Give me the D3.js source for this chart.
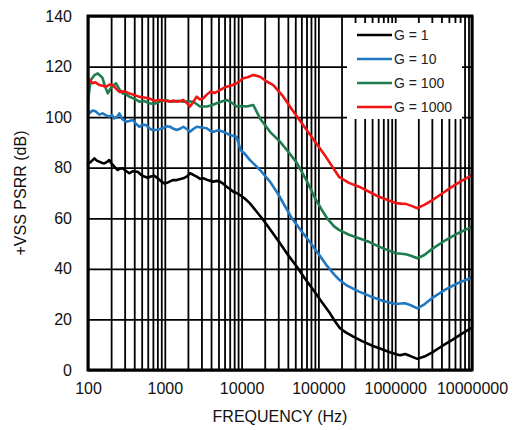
<!DOCTYPE html>
<html>
<head>
<meta charset="utf-8">
<script src="https://cdn.jsdelivr.net/npm/d3@7"></script>
<style>
  html, body { margin: 0; padding: 0; background: #fff; }
  svg { display: block; font-family: "Liberation Sans", Arial, sans-serif; }
</style>
</head>
<body>
<svg id="chart" width="519" height="430"></svg>
<script>
// ---- data ----
const xTickValues = [100, 1000, 10000, 100000, 1000000, 10000000];
const yTickValues = [0, 20, 40, 60, 80, 100, 120, 140];
const seriesNames = ["G = 1", "G = 10", "G = 100", "G = 1000"];
const seriesColors = ["#000000", "#1f78c1", "#1e7d4f", "#f01414"];

const freqG1 = [100,108,121,130,140,150,163,175,189,205,220,244,260,283,310,345,380,444,490,541,600,661,730,809,900,985,1100,1268,1429,1600,1742,1950,2128,2350,2602,2900,3170,3700,4285,4750,5235,5800,6395,7100,7800,8600,9530,11000,12850,15730,19190,25000,31620,40000,52120,66000,85870,110000,141600,165000,191000,230000,284500,370000,514000,700000,850000,1087000,1200000,1343000,1550000,1941000,2400000,3043000,4000000,5536000,7500000,10000000];
const psrrG1 = [81.7,82.2,83.7,82.8,82.4,82.0,81.7,82.2,83.0,81.5,80.4,79.1,79.6,79.8,78.8,77.8,78.6,78.4,77.2,76.5,76.0,76.5,76.8,75.8,74.6,73.8,74.2,75.1,75.1,75.5,75.8,76.6,77.8,77.2,76.5,75.6,75.8,75.0,74.5,74.8,74.5,73.6,72.5,71.5,70.5,70.0,69.2,67.8,65.9,62.6,59.3,54.5,50.1,45.6,40.9,36.4,31.6,27.0,22.4,19.2,16.5,14.8,13.2,11.4,9.5,8.0,7.0,6.0,5.9,6.3,5.6,4.4,5.3,7.0,9.3,11.9,14.5,16.8];

const freqG10 = [100,104,115,127,140,155,170,189,205,220,240,256,280,313,345,382,420,466,520,569,630,695,800,940,1050,1170,1300,1429,1600,1742,1950,2128,2350,2602,3000,3515,3900,4285,5000,5780,6400,7060,8625,9700,11000,12850,17380,23440,30000,45200,60000,80000,100000,127000,160000,185300,230000,337800,470000,700000,1016000,1200000,1343000,1600000,1941000,2400000,3043000,4500000,6500000,10000000];
const psrrG10 = [104,101.5,102.6,102.2,101.0,101.5,100.8,100.2,100.8,99.5,100.2,101.5,99.2,98.2,98.5,98.9,97.4,96.2,97.0,96.9,95.6,94.9,95.0,95.6,96.4,96.2,95.4,94.9,95.5,96.2,95.2,94.2,95.3,96.2,95.9,95.6,94.6,94.2,94.8,94.2,93.6,92.9,92.2,87.0,85.5,83.0,79.1,74.5,69.5,60.0,55.0,50.0,46.0,41.5,37.8,35.8,33.6,31.0,29.2,27.3,26.1,26.3,26.4,25.6,24.4,26.0,28.5,31.8,34.3,36.6];

const freqG100 = [100,104,109,120,134,145,155,165,181,200,232,256,283,310,345,400,466,540,628,720,848,1000,1268,1500,1742,2000,2350,2872,3515,4000,4740,5500,6395,7500,8625,10000,11640,14200,17380,23440,31620,40000,52120,70000,90360,110000,130000,160000,185300,250000,337800,470000,615000,800000,1016000,1200000,1371000,1600000,1941000,2400000,3000000,4500000,6500000,10000000];
const psrrG100 = [106,110.5,114.7,116.5,117.3,116.4,115.4,112.5,109.4,111.8,113.4,111.0,109.4,109.2,108.1,107.3,106.1,106.4,105.5,105.2,106.1,106.8,106.1,106.5,106.1,106.3,106.1,104.2,104.2,104.6,105.5,106.2,106.8,105.6,104.2,104.4,104.2,104.8,99.5,94.2,90.3,86.5,82.0,75.0,68.0,63.5,60.0,56.8,55.4,53.5,52.1,50.5,48.8,47.4,46.2,46.0,45.8,45.2,44.2,45.5,47.8,51.3,54.0,56.7];

const freqG1000 = [100,108,115,125,140,155,171,190,210,230,256,300,345,400,466,540,628,720,848,1000,1170,1300,1429,1600,1742,1950,2128,2350,2602,2872,3170,3500,3880,4500,5235,5800,6395,7500,8625,10520,12000,14200,17380,21220,25880,34930,45710,75450,124500,185300,250000,337800,470000,615000,800000,1016000,1200000,1371000,1600000,1941000,2400000,3043000,4000000,5536000,7500000,10000000];
const psrrG1000 = [115.5,114.2,113.4,113.8,112.7,112.4,112.0,112.9,112.7,111.4,110.0,110.2,109.4,108.8,108.0,107.8,107.4,106.5,106.8,106.6,106.1,106.6,106.1,106.4,106.8,105.5,104.2,106.0,108.1,107.0,107.4,108.8,110.0,109.6,110.7,111.5,112.0,112.6,113.4,115.4,115.8,116.7,116.0,114.1,112.7,108.1,102.8,93.6,84.4,76.4,74.0,72.5,70.3,68.5,67.2,66.0,65.8,65.7,65.0,64.0,65.3,67.2,69.6,72.5,75.0,77.1];

const xTitle = "FREQUENCY (Hz)";
const yTitle = "+VSS PSRR (dB)";

// ---- layout ----
const plot = { left: 88, right: 472, top: 16, bottom: 370 };
const svg = d3.select("#chart");

const x = d3.scaleLog().domain([100, 1e7]).range([plot.left, plot.right]);
const y = d3.scaleLinear().domain([0, 140]).range([plot.bottom, plot.top]);

// minor / major vertical grid values (1..9 of each decade)
const gridX = [];
for (let d = 100; d < 1e7; d *= 10) for (let m = 1; m <= 9; m++) gridX.push(d * m);
gridX.push(1e7);

const gridG = svg.append("g");
gridG.append("g")
  .attr("transform", `translate(0,${plot.bottom})`)
  .call(d3.axisBottom(x).tickValues(gridX).tickSize(-(plot.bottom - plot.top)).tickFormat(""))
  .call(g => g.select(".domain").remove())
  .call(g => g.selectAll("line").attr("stroke", "#000").attr("stroke-width", 1.8));
gridG.append("g")
  .attr("transform", `translate(${plot.left},0)`)
  .call(d3.axisLeft(y).tickValues(yTickValues).tickSize(-(plot.right - plot.left)).tickFormat(""))
  .call(g => g.select(".domain").remove())
  .call(g => g.selectAll("line").attr("stroke", "#000").attr("stroke-width", 1.8));

// ---- curves ----
const series = [
  { f: freqG1, v: psrrG1 },
  { f: freqG10, v: psrrG10 },
  { f: freqG100, v: psrrG100 },
  { f: freqG1000, v: psrrG1000 }
];
const line = d3.line().x(d => x(d[0])).y(d => y(d[1]));
const curveG = svg.append("g");
series.forEach((s, i) => {
  const pts = s.f.map((f, k) => [f, s.v[k]]);
  curveG.append("path")
    .attr("d", line(pts))
    .attr("fill", "none")
    .attr("stroke", seriesColors[i])
    .attr("stroke-width", 2.6)
    .attr("stroke-linejoin", "round")
    .attr("stroke-linecap", "round");
});

// ---- legend ----
const legend = svg.append("g");
legend.append("rect")
  .attr("x", 347).attr("y", 23).attr("width", 115).attr("height", 96)
  .attr("fill", "#fff");
seriesNames.forEach((name, i) => {
  const ly = 35 + i * 24;
  legend.append("line")
    .attr("x1", 357).attr("x2", 392).attr("y1", ly).attr("y2", ly)
    .attr("stroke", seriesColors[i]).attr("stroke-width", 2.6);
  legend.append("text")
    .attr("x", 394).attr("y", ly).attr("dy", "0.35em")
    .attr("font-size", 14).attr("fill", "#222")
    .text(name);
});

// ---- frame ----
svg.append("rect")
  .attr("x", plot.left).attr("y", plot.top)
  .attr("width", plot.right - plot.left).attr("height", plot.bottom - plot.top)
  .attr("fill", "none").attr("stroke", "#000").attr("stroke-width", 3);

// ---- axes labels ----
svg.append("g")
  .attr("transform", `translate(0,${plot.bottom})`)
  .call(d3.axisBottom(x).tickValues(xTickValues).tickSize(0).tickPadding(13).tickFormat(d3.format("d")))
  .call(g => g.select(".domain").remove())
  .call(g => g.selectAll("text").attr("font-size", 16).attr("fill", "#111").attr("font-family", "Liberation Sans, Arial, sans-serif"));

svg.append("g")
  .attr("transform", `translate(${plot.left},0)`)
  .call(d3.axisLeft(y).tickValues(yTickValues).tickSize(0).tickPadding(16).tickFormat(d3.format("d")))
  .call(g => g.select(".domain").remove())
  .call(g => g.selectAll("text").attr("font-size", 16).attr("fill", "#111").attr("font-family", "Liberation Sans, Arial, sans-serif"));

svg.append("text")
  .attr("x", (plot.left + plot.right) / 2).attr("y", 422)
  .attr("text-anchor", "middle").attr("font-size", 16).attr("fill", "#111")
  .text(xTitle);

svg.append("text")
  .attr("transform", `translate(26,${(plot.top + plot.bottom) / 2}) rotate(-90)`)
  .attr("text-anchor", "middle").attr("font-size", 16).attr("fill", "#111")
  .text(yTitle);
</script>
</body>
</html>
